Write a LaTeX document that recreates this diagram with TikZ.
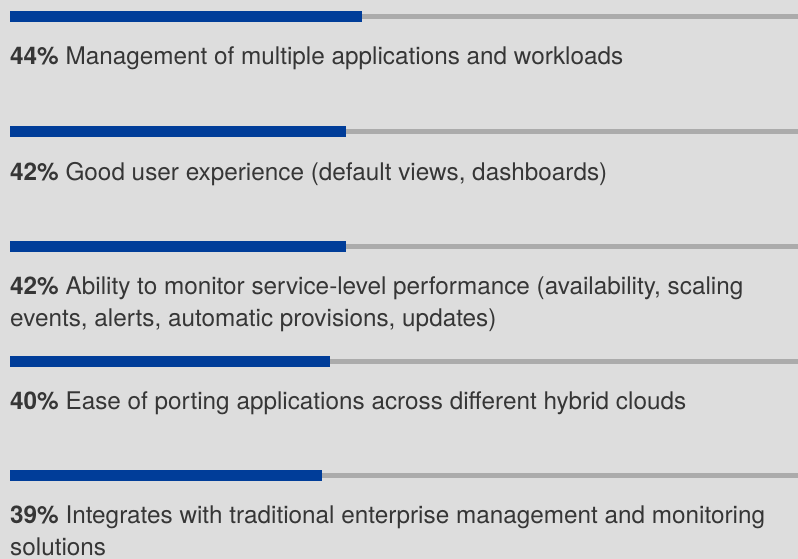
\documentclass[tikz,border=0pt]{standalone}
\usepackage{fontspec}
\setmainfont{TeX Gyre Heros}
\usepackage{tikz}
\usetikzlibrary{positioning}
\definecolor{pagegrey}{HTML}{DDDDDD}
\definecolor{barblue}{HTML}{003D99}
\definecolor{trackgrey}{HTML}{ABABAB}
\definecolor{labelgrey}{HTML}{363636}
\tikzset{
  bluebar/.style={fill=barblue},
  track/.style={fill=trackgrey},
  answer/.style={inner sep=0pt, anchor=base west, align=left,
    text=labelgrey, font=\fontsize{24.3}{32}\selectfont}
}

\begin{document}
\begin{tikzpicture}
    [x=1pt, y=-1pt]
    \fill[pagegrey] (0,0) rectangle (798,559);
    \useasboundingbox (0,0) rectangle (798,559);

    % bars, 8pt per percent
    \fill[track] (10,14) rectangle (798,19);
    \fill[bluebar] (10,11) rectangle ++(352,11);
    \fill[track] (10,129) rectangle (798,134);
    \fill[bluebar] (10,126) rectangle ++(336,11);
    \fill[track] (10,244) rectangle (798,249);
    \fill[bluebar] (10,241) rectangle ++(336,11);
    \fill[track] (10,359) rectangle (798,364);
    \fill[bluebar] (10,356) rectangle ++(320,11);
    \fill[track] (10,473) rectangle (798,478);
    \fill[bluebar] (10,470) rectangle ++(312,11);

    % two-line labels sit on their last baseline
    \node (mgmt) [answer] at (10,64.5) {\textbf{44\%} Management of multiple applications and workloads};
    \node (ux) [answer] at (10,180) {\textbf{42\%} Good user experience (default views, dashboards)};
    \node (monitor) [answer] at (10,326.5) {\textbf{42\%} Ability to monitor service-level performance (availability, scaling\\events, alerts, automatic provisions, updates)};
    \node (porting) [answer] at (10,409) {\textbf{40\%} Ease of porting applications across different hybrid clouds};
    \node (integr) [answer] at (10,555.5) {\textbf{39\%} Integrates with traditional enterprise management and monitoring\\solutions};

  \end{tikzpicture}
\end{document}
